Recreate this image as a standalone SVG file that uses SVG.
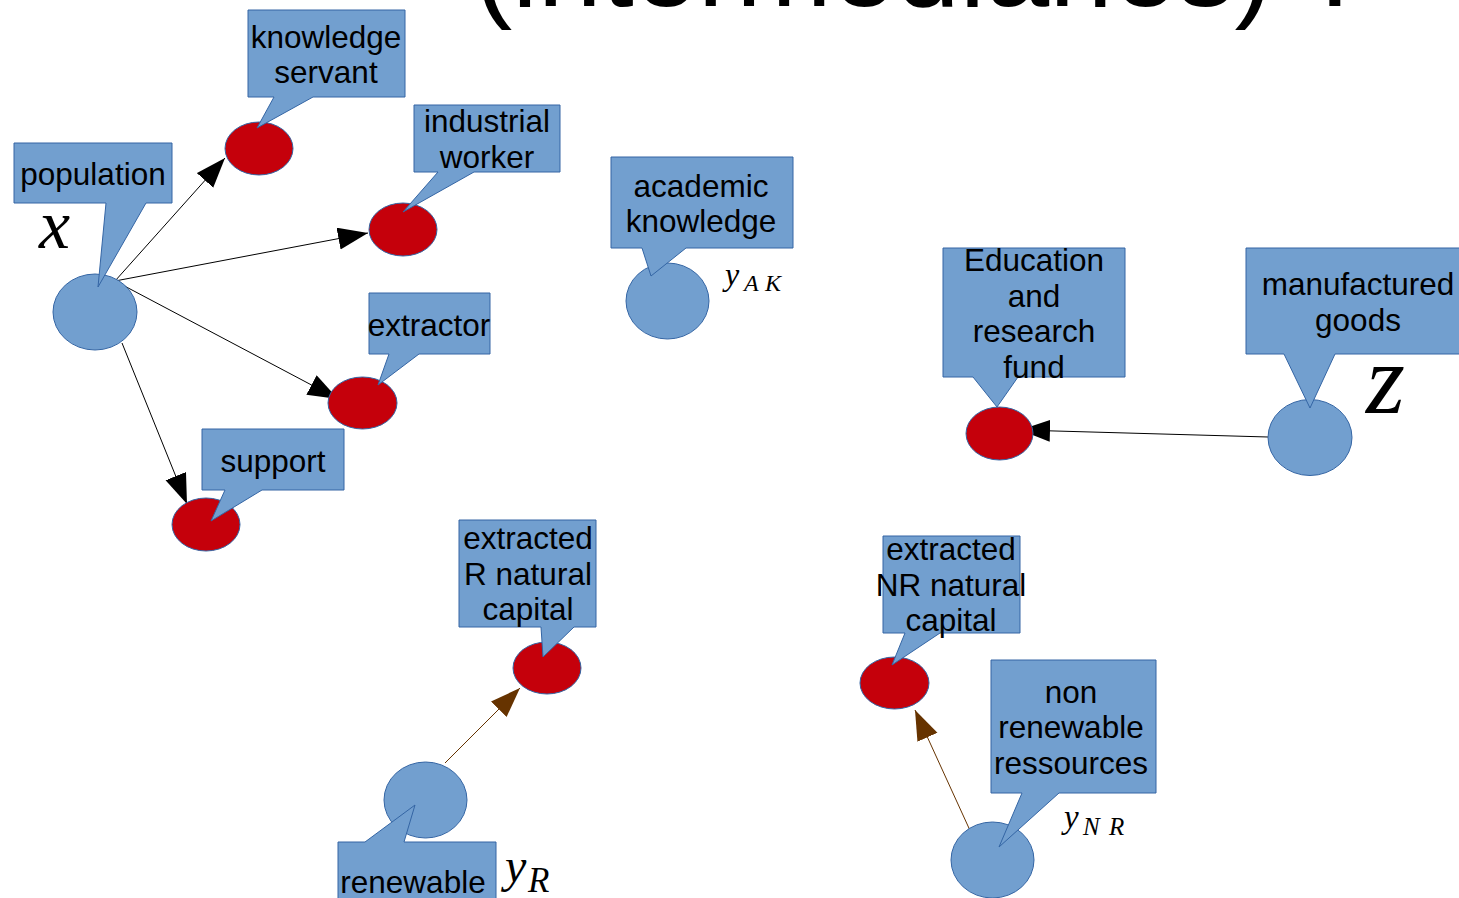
<svg xmlns="http://www.w3.org/2000/svg" width="1459" height="898" viewBox="0 0 1459 898">
<style>
.bn{fill:#729fcf;stroke:#3465a4;stroke-width:1}
.rn{fill:#c5000b;stroke:#3465a4;stroke-width:1}
.co{fill:#729fcf;stroke:#3465a4;stroke-width:1}
.t{font-family:"Liberation Sans",Arial,sans-serif;font-size:31.5px;fill:#000;text-anchor:middle}
.m{font-family:"Liberation Serif","Times New Roman",serif;font-style:italic;fill:#000}
.title{font-family:"Liberation Sans",Arial,sans-serif;font-size:115px;fill:#000}
.cb{stroke:#000;stroke-width:1;fill:none}
.cr{stroke:#663300;stroke-width:1;fill:none}
</style>
<defs>
<marker id="ab" markerUnits="userSpaceOnUse" markerWidth="32" markerHeight="24" refX="30" refY="11" orient="auto" viewBox="0 0 32 24">
<path d="M0,0 L30,11 L0,22 Z" fill="#000"/>
</marker>
<marker id="ar" markerUnits="userSpaceOnUse" markerWidth="32" markerHeight="24" refX="30" refY="11" orient="auto" viewBox="0 0 32 24">
<path d="M0,0 L30,11 L0,22 Z" fill="#663300"/>
</marker>
</defs>
<rect width="1459" height="898" fill="#fff"/>
<text class="title" x="474" y="6">(intermediaries) ?</text>

<g id="connectors">
<line class="cb" x1="115" y1="281" x2="225" y2="158" marker-end="url(#ab)"/>
<line class="cb" x1="115" y1="281" x2="368" y2="233" marker-end="url(#ab)"/>
<line class="cb" x1="115" y1="281" x2="338" y2="399" marker-end="url(#ab)"/>
<line class="cb" x1="122" y1="343" x2="187" y2="504" marker-end="url(#ab)"/>
<line class="cb" x1="1268" y1="437" x2="1020" y2="430" marker-end="url(#ab)"/>
<line class="cr" x1="445" y1="763" x2="520" y2="688" marker-end="url(#ar)"/>
<line class="cr" x1="973" y1="837" x2="915" y2="710" marker-end="url(#ar)"/>
</g>

<g id="population">
<ellipse class="bn" cx="95" cy="312" rx="42" ry="38"/>
<path class="co" d="M14,143 H172 V203 H146 L98,287 L106,203 H14 Z"/>
<text class="t" x="93" y="185">population</text>
<text class="m" x="39" y="248" font-size="70">x</text>
</g>

<g id="knowledge-servant">
<ellipse class="rn" cx="259" cy="148.5" rx="34" ry="26.5"/>
<path class="co" d="M248,10 H405 V97 H313 L257,128 L274,97 H248 Z"/>
<text class="t" x="326" y="48">knowledge</text>
<text class="t" x="326" y="83">servant</text>
</g>

<g id="industrial-worker">
<ellipse class="rn" cx="403" cy="229.5" rx="34" ry="26.5"/>
<path class="co" d="M414,105 H560 V172 H474 L403,212 L438,172 H414 Z"/>
<text class="t" x="487" y="132">industrial</text>
<text class="t" x="487" y="168">worker</text>
</g>

<g id="extractor">
<ellipse class="rn" cx="362.5" cy="403" rx="34.5" ry="26"/>
<path class="co" d="M369,293 H490 V354 H419 L378,385 L389,354 H369 Z"/>
<text class="t" x="429" y="336">extractor</text>
</g>

<g id="support">
<ellipse class="rn" cx="206" cy="524.5" rx="34" ry="26.5"/>
<path class="co" d="M202,429 H344 V490 H262 L211,521 L225,490 H202 Z"/>
<text class="t" x="273" y="472">support</text>
</g>

<g id="academic-knowledge">
<ellipse class="bn" cx="667.5" cy="301" rx="41.5" ry="38"/>
<path class="co" d="M611,157 H793 V248 H686 L651,276 L642,248 H611 Z"/>
<text class="t" x="701" y="197">academic</text>
<text class="t" x="701" y="232">knowledge</text>
<text class="m" x="725" y="285" font-size="32">y<tspan font-size="24" x="744 765" y="291">AK</tspan></text>
</g>

<g id="education-fund">
<ellipse class="rn" cx="999.5" cy="433.5" rx="33.5" ry="26.5"/>
<path class="co" d="M943,248 H1125 V377 H1018 L997,407 L973,377 H943 Z"/>
<text class="t" x="1034" y="271">Education</text>
<text class="t" x="1034" y="307">and</text>
<text class="t" x="1034" y="342">research</text>
<text class="t" x="1034" y="378">fund</text>
</g>

<g id="manufactured-goods">
<ellipse class="bn" cx="1310" cy="437.5" rx="42" ry="38"/>
<path class="co" d="M1246,248 H1460 V354 H1335 L1310,408 L1284,354 H1246 Z"/>
<text class="t" x="1358" y="295">manufactured</text>
<text class="t" x="1358" y="331">goods</text>
<text class="m" x="1366" y="413" font-size="100">z</text>
</g>

<g id="extracted-R">
<ellipse class="rn" cx="547" cy="668" rx="34" ry="26"/>
<path class="co" d="M459,520 H596 V627 H574 L543,657 L541,627 H459 Z"/>
<text class="t" x="528" y="549">extracted</text>
<text class="t" x="528" y="585">R natural</text>
<text class="t" x="528" y="620">capital</text>
</g>

<g id="renewable">
<ellipse class="bn" cx="425.5" cy="800" rx="41.5" ry="38"/>
<path class="co" d="M338,842 H365 L415,805 L404,842 H496 V910 H338 Z"/>
<text class="t" x="413" y="893">renewable</text>
<text class="m" x="505" y="882" font-size="48">y<tspan font-size="35" x="528" y="892">R</tspan></text>
</g>

<g id="extracted-NR">
<ellipse class="rn" cx="894.5" cy="683" rx="34.5" ry="26"/>
<path class="co" d="M883,536 H1020 V633 H940 L892,665 L905,633 H883 Z"/>
<text class="t" x="951" y="560">extracted</text>
<text class="t" x="951" y="596">NR natural</text>
<text class="t" x="951" y="631">capital</text>
</g>

<g id="non-renewable">
<ellipse class="bn" cx="992.5" cy="860" rx="41.5" ry="38"/>
<path class="co" d="M991,660 H1156 V793 H1059 L999,847 L1022,793 H991 Z"/>
<text class="t" x="1071" y="703">non</text>
<text class="t" x="1071" y="738">renewable</text>
<text class="t" x="1071" y="774">ressources</text>
<text class="m" x="1064" y="828" font-size="33">y<tspan font-size="25" x="1083 1109" y="835">NR</tspan></text>
</g>
</svg>
